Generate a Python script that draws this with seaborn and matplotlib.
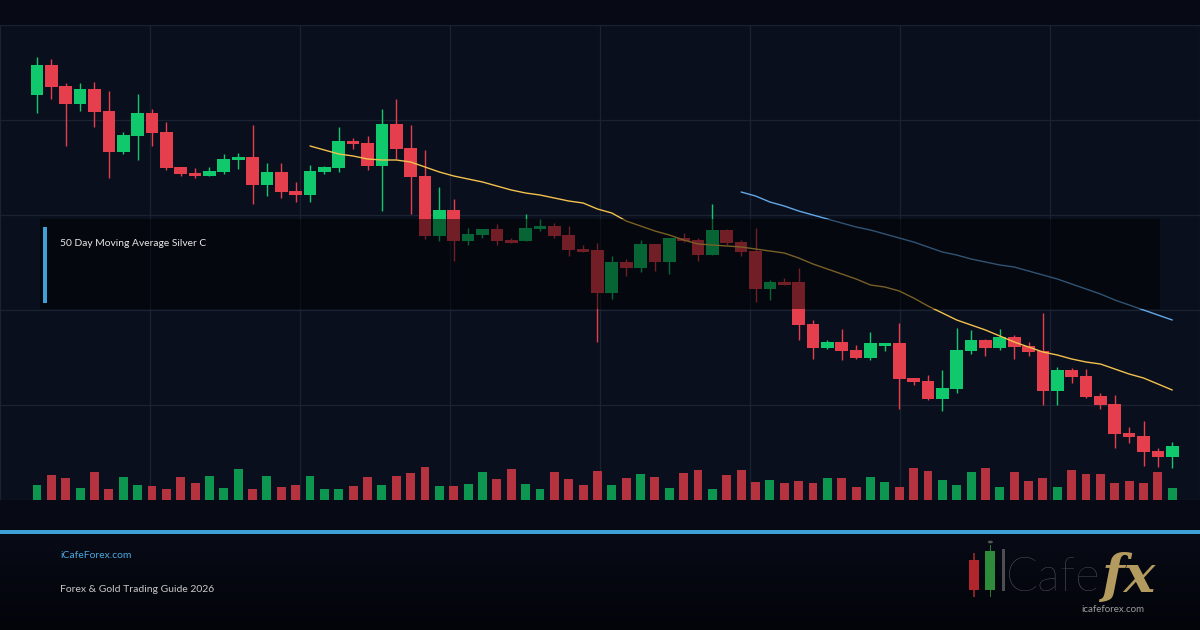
import numpy as np
import pandas as pd
import matplotlib
matplotlib.use("Agg")
import matplotlib.pyplot as plt
from matplotlib.patches import Rectangle, Circle
from matplotlib.colors import LinearSegmentedColormap
import seaborn as sns

nan = np.nan

# ---------------- data ----------------
opens = [35.25, 36.75, 35.70, 34.80, 35.55, 34.45, 32.40, 33.20, 34.35, 33.40,
         31.65, 31.35, 31.20, 31.40, 32.00, 32.15, 30.75, 31.40, 30.45, 30.25,
         31.40, 31.60, 32.95, 32.85, 31.70, 33.80, 32.60, 31.20, 28.20, 29.50,
         27.95, 28.25, 28.55, 28.00, 27.95, 28.55, 28.70, 28.25, 27.55, 27.50,
         25.35, 26.90, 26.60, 27.80, 26.90, 28.10, 28.00, 27.25, 28.50, 27.90,
         27.45, 25.55, 25.90, 25.90, 23.80, 22.60, 22.90, 22.50, 22.10, 22.70,
         22.85, 21.10, 20.95, 20.05, 20.55, 22.45, 23.00, 22.60, 23.15, 22.70,
         22.45, 20.45, 21.50, 21.20, 20.20, 19.80, 18.35, 18.20, 17.45, 17.15]
highs = [37.15, 37.05, 35.85, 35.85, 35.90, 35.45, 33.40, 35.30, 34.55, 33.90,
         31.65, 31.60, 31.65, 32.30, 32.35, 33.75, 31.85, 31.85, 30.90, 31.75,
         31.70, 33.65, 33.10, 33.20, 34.55, 35.05, 33.75, 32.50, 30.65, 30.05,
         28.60, 28.55, 28.80, 28.10, 29.30, 29.05, 28.85, 28.70, 27.75, 27.85,
         27.20, 27.05, 28.00, 27.80, 28.10, 28.35, 28.10, 29.80, 28.55, 28.00,
         28.60, 26.00, 26.10, 26.60, 24.00, 23.00, 23.55, 22.75, 23.40, 22.85,
         23.85, 21.10, 21.25, 21.50, 23.60, 23.50, 23.05, 23.55, 23.25, 22.90,
         24.35, 21.65, 21.60, 21.55, 20.35, 20.25, 18.65, 18.95, 17.60, 17.90]
lows = [34.35, 35.05, 32.70, 34.45, 33.65, 31.10, 32.30, 32.00, 32.70, 31.50,
        31.20, 31.10, 31.20, 31.30, 31.55, 29.80, 30.20, 30.10, 29.90, 29.90,
        31.30, 31.40, 32.55, 31.50, 29.45, 32.05, 29.30, 28.05, 27.95, 26.95,
        27.75, 28.10, 27.75, 27.85, 27.95, 28.45, 28.10, 27.20, 27.40, 22.90,
        25.05, 26.20, 26.40, 26.45, 26.30, 27.90, 26.95, 27.25, 27.75, 27.20,
        24.90, 25.00, 25.75, 23.00, 22.05, 22.55, 22.00, 22.05, 22.00, 22.45,
        19.55, 20.75, 20.00, 19.45, 20.35, 22.30, 22.20, 22.50, 22.05, 22.20,
        19.75, 19.75, 20.85, 20.10, 19.55, 17.60, 17.85, 16.70, 16.65, 16.60]
closes = [36.75, 35.65, 34.80, 35.55, 34.40, 32.40, 33.25, 34.35, 33.35, 31.60,
          31.30, 31.20, 31.45, 32.05, 32.15, 30.75, 31.40, 30.40, 30.25, 31.45,
          31.65, 32.95, 32.80, 31.70, 33.80, 32.55, 31.15, 28.20, 29.50, 27.95,
          28.30, 28.55, 27.95, 27.85, 28.60, 28.70, 28.20, 27.50, 27.40, 25.35,
          26.90, 26.60, 27.80, 26.90, 28.10, 27.95, 27.25, 28.50, 27.85, 27.40,
          25.55, 25.90, 25.75, 23.75, 22.60, 22.90, 22.45, 22.10, 22.85, 22.85,
          21.05, 20.90, 20.05, 20.60, 22.50, 23.00, 22.60, 23.15, 22.65, 22.40,
          20.45, 21.50, 21.15, 20.15, 19.75, 18.30, 18.15, 17.40, 17.15, 17.70]
volume = [147, 247, 217, 117, 277, 107, 227, 147, 137, 107,
          227, 167, 237, 117, 307, 107, 237, 127, 147, 237,
          107, 107, 137, 227, 147, 237, 267, 327, 137, 137,
          157, 277, 207, 307, 157, 107, 277, 207, 147, 287,
          147, 217, 257, 227, 117, 267, 297, 107, 247, 297,
          177, 197, 167, 187, 167, 217, 217, 127, 227, 177,
          127, 317, 287, 197, 147, 277, 317, 127, 277, 187,
          217, 127, 297, 257, 257, 167, 187, 167, 277, 117]
ma_fast = [nan] * 19 + [
    32.70, 32.50, 32.30, 32.20, 32.05, 32.00, 32.00, 31.90, 31.65, 31.40,
    31.20, 31.05, 30.90, 30.70, 30.50, 30.35, 30.25, 30.10, 29.95, 29.85,
    29.55, 29.35, 28.95, 28.70, 28.45, 28.25, 28.00, 27.80, 27.75, 27.70,
    27.65, 27.55, 27.45, 27.35, 27.10, 26.80, 26.55, 26.30, 26.05, 25.75,
    25.65, 25.45, 25.10, 24.70, 24.35, 24.00, 23.75, 23.50, 23.20, 22.90,
    22.65, 22.40, 22.25, 22.05, 21.90, 21.80, 21.55, 21.30, 21.10, 20.80,
    20.50]
ma_slow = [nan] * 49 + [
    30.40, 30.20, 29.90, 29.70, 29.45, 29.25, 29.05, 28.85, 28.65, 28.50,
    28.30, 28.10, 27.90, 27.65, 27.40, 27.25, 27.05, 26.90, 26.75, 26.65,
    26.45, 26.25, 26.05, 25.80, 25.55, 25.30, 25.00, 24.75, 24.50, 24.25,
    24.00]

legend_label = "50 Day Moving Average Silver C"
site_label = "iCafeForex.com"
guide_label = "Forex & Gold Trading Guide 2026"
logo_word = "Cafe"
logo_fx = "fx"
logo_url = "icafeforex.com"

# ---------------- styling ----------------
FIG_BG = "#070a14"
AX_BG = "#0a0f1d"
GRID = "#1b2232"
UP, DOWN = "#10c96c", "#e53e4d"
VUP, VDOWN = "#0c9650", "#b5323f"
YEL, BLU = "#f2c14e", "#62a8e8"
ACCENT = "#3fa0d8"

sns.set_theme(style="dark", rc={"axes.facecolor": AX_BG, "figure.facecolor": FIG_BG})
plt.rcParams["font.family"] = ["Lato", "DejaVu Sans"]

df = pd.DataFrame({
    "idx": np.arange(len(opens)),
    "open": opens, "high": highs, "low": lows, "close": closes,
    "volume": volume, "ma_fast": ma_fast, "ma_slow": ma_slow,
})
df["dir"] = np.where(df["close"] >= df["open"], "up", "down")

W, H = 1200, 630
fig = plt.figure(figsize=(12, 6.3), dpi=100)
fig.patch.set_facecolor(FIG_BG)

ax = fig.add_axes([0, 130 / H, 1, 475 / H])
ax.set_facecolor(AX_BG)

xmin, xmax = -2.575, 80.93
ymin, ymax = 15.0, 38.75

cols = np.where(df["dir"] == "up", UP, DOWN)
ax.vlines(df["idx"], df["low"], df["high"], colors=cols, linewidth=1.0, zorder=3)
body_lo = np.minimum(df["open"], df["close"])
body_h = np.maximum(np.abs(df["close"] - df["open"]), 0.08)
ax.bar(df["idx"], body_h, bottom=body_lo, width=0.88, color=cols, linewidth=0, zorder=4)

sns.lineplot(data=df, x="idx", y="ma_fast", ax=ax, color=YEL, linewidth=1.0, zorder=5)
sns.lineplot(data=df, x="idx", y="ma_slow", ax=ax, color=BLU, linewidth=1.0, zorder=5)

ax.set_xlim(xmin, xmax)
ax.set_ylim(ymin, ymax)
ax.set_xticks(np.linspace(xmin, xmax, 9))
ax.set_yticks(np.linspace(ymin, ymax, 6))
ax.grid(True, color=GRID, linewidth=0.9)
ax.tick_params(length=0, labelbottom=False, labelleft=False)
ax.set_xlabel("")
ax.set_ylabel("")
for s in ax.spines.values():
    s.set_visible(False)

# volume on twin axis (bars occupy the bottom strip of the panel)
ax2 = ax.twinx()
sns.barplot(data=df, x="idx", y="volume", hue="dir", palette={"up": VUP, "down": VDOWN},
            native_scale=True, dodge=False, width=0.62, saturation=1, legend=False,
            linewidth=0, ax=ax2, errorbar=None)
ax2.set_xlim(xmin, xmax)
ax2.set_ylim(0, 4750)
ax2.grid(False)
ax2.tick_params(length=0, labelright=False, labelbottom=False, labelleft=False)
ax2.set_xlabel("")
ax2.set_ylabel("")
for s in ax2.spines.values():
    s.set_visible(False)


def px_rect(x0, y0, x1, y1, **kw):
    """Rectangle from image-pixel corners (top-left origin) to figure coords."""
    r = Rectangle((x0 / W, (H - y1) / H), (x1 - x0) / W, (y1 - y0) / H,
                  transform=fig.transFigure, **kw)
    fig.add_artist(r)
    return r


# legend overlay box
px_rect(40, 219, 1160, 309, facecolor="black", alpha=0.5, linewidth=0, zorder=10)
px_rect(43, 227, 47, 303, facecolor=ACCENT, linewidth=0, zorder=11)
fig.text(60 / W, (H - 244) / H, legend_label, color="#e8e8e8", fontsize=7.4,
         va="center", ha="left", zorder=12)

# footer background gradient
axf = fig.add_axes([0, 0, 1, 97 / H], zorder=-1)
grad = np.linspace(0, 1, 100).reshape(-1, 1)
cmap = LinearSegmentedColormap.from_list("foot", ["#080b16", "#03040a"])
axf.imshow(grad, aspect="auto", cmap=cmap, extent=[0, 1, 0, 1])
axf.axis("off")

# separator line
px_rect(0, 530, 1200, 533.5, facecolor=ACCENT, linewidth=0, zorder=6)

# footer texts
fig.text(60 / W, (H - 556) / H, site_label, color="#4aa8e0", fontsize=7.5, va="center", ha="left")
fig.text(60 / W, (H - 590) / H, guide_label, color="#c8c8c8", fontsize=7.5, va="center", ha="left")

# logo
px_rect(973, 553, 974.5, 597, facecolor="#8a2026", linewidth=0, zorder=7)
px_rect(969, 560, 978.5, 590, facecolor="#b0262c", linewidth=0, zorder=8)
px_rect(989.5, 545, 991, 597, facecolor="#2a7a35", linewidth=0, zorder=7)
px_rect(985, 551, 995, 590, facecolor="#2e8b3a", linewidth=0, zorder=8)
fig.add_artist(Circle((990.3 / W, (H - 542) / H), 2.6 / W, transform=fig.transFigure,
                      facecolor="#555555", linewidth=0, zorder=8))
px_rect(1002, 549, 1004.5, 591, facecolor="#4b4e53", linewidth=0, zorder=8)
fig.text(1006 / W, (H - 591) / H, logo_word, color="#54575c", fontsize=34,
         fontweight="light", va="baseline", ha="left", family=["Lato", "DejaVu Sans"])
fig.text(1101 / W, (H - 592) / H, logo_fx, color="#b39a5e", fontsize=38,
         fontweight="bold", fontstyle="italic", va="baseline", ha="left",
         family=["DejaVu Serif"])
fig.text(1113 / W, (H - 609) / H, logo_url, color="#9c9c9c", fontsize=7,
         va="center", ha="center", zorder=9)

fig.savefig("out.png", dpi=100, facecolor=fig.get_facecolor())
